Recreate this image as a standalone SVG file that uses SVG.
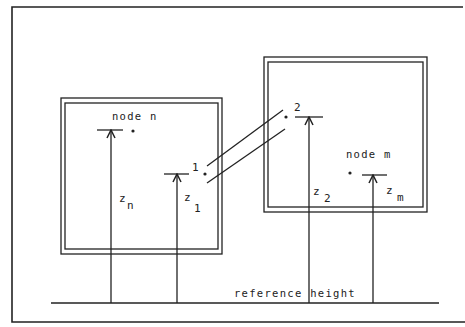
<svg xmlns="http://www.w3.org/2000/svg" width="465" height="327" viewBox="0 0 465 327">
<defs>
<style>
.ln{stroke:#222;stroke-width:1.3;fill:none}
.fr{stroke:#222;stroke-width:1.6;fill:none}
.t{font-family:"DejaVu Sans Mono","Liberation Mono",monospace;font-size:10.5px;letter-spacing:1.3px;fill:#222}
.s{font-family:"DejaVu Sans Mono","Liberation Mono",monospace;font-size:11px;fill:#222}
.dot{fill:#222}
</style>
<marker id="ah" viewBox="0 0 10 10" refX="9" refY="5" markerWidth="10" markerHeight="10" markerUnits="userSpaceOnUse" orient="auto">
<path d="M1,1 L9,5 L1,9" stroke="#222" stroke-width="1.5" fill="none"/>
</marker>
</defs>
<rect width="465" height="327" fill="#fff"/>
<path class="fr" d="M463,7 H12 V322 H465"/>
<g id="node-n">
<rect class="ln" x="61" y="98" width="161" height="156"/>
<rect class="ln" x="65" y="103" width="153" height="146"/>
<text class="t" x="112" y="120">node n</text>
<circle class="dot" cx="133" cy="131" r="1.6"/>
</g>
<g id="node-m">
<rect class="ln" x="264" y="57" width="163" height="155"/>
<rect class="ln" x="268" y="62" width="155" height="145"/>
<text class="t" x="346" y="158">node m</text>
<circle class="dot" cx="350" cy="173" r="1.6"/>
</g>
<g id="point-1">
<circle class="dot" cx="205" cy="174" r="1.6"/>
<text class="s" x="192" y="171" font-size="9">1</text>
</g>
<g id="point-2">
<circle class="dot" cx="286" cy="117" r="1.6"/>
<text class="s" x="294" y="111">2</text>
</g>
<g id="pipe">
<line class="ln" x1="207" y1="166" x2="283" y2="110"/>
<line class="ln" x1="207" y1="183" x2="285" y2="129"/>
</g>
<g id="reference">
<line class="fr" x1="51" y1="303" x2="439" y2="303"/>
<text class="t" x="234" y="297">reference height</text>
</g>
<g id="connectors">
<line class="ln" x1="97" y1="130" x2="123" y2="130"/>
<line class="ln" x1="111" y1="303" x2="111" y2="130" marker-end="url(#ah)"/>
<line class="ln" x1="164" y1="174" x2="189" y2="174"/>
<line class="ln" x1="177" y1="303" x2="177" y2="174" marker-end="url(#ah)"/>
<line class="ln" x1="295" y1="117" x2="323" y2="117"/>
<line class="ln" x1="309" y1="303" x2="309" y2="117" marker-end="url(#ah)"/>
<line class="ln" x1="362" y1="175" x2="387" y2="175"/>
<line class="ln" x1="373" y1="303" x2="373" y2="175" marker-end="url(#ah)"/>
</g>
<g id="labels">
<text class="s" x="119" y="202">z</text><text class="s" x="127" y="209">n</text>
<text class="s" x="184" y="201">z</text><text class="s" x="194" y="212">1</text>
<text class="s" x="313" y="195">z</text><text class="s" x="324" y="202">2</text>
<text class="s" x="386" y="194">z</text><text class="s" x="397" y="201" font-size="9">m</text>
</g>
</svg>
